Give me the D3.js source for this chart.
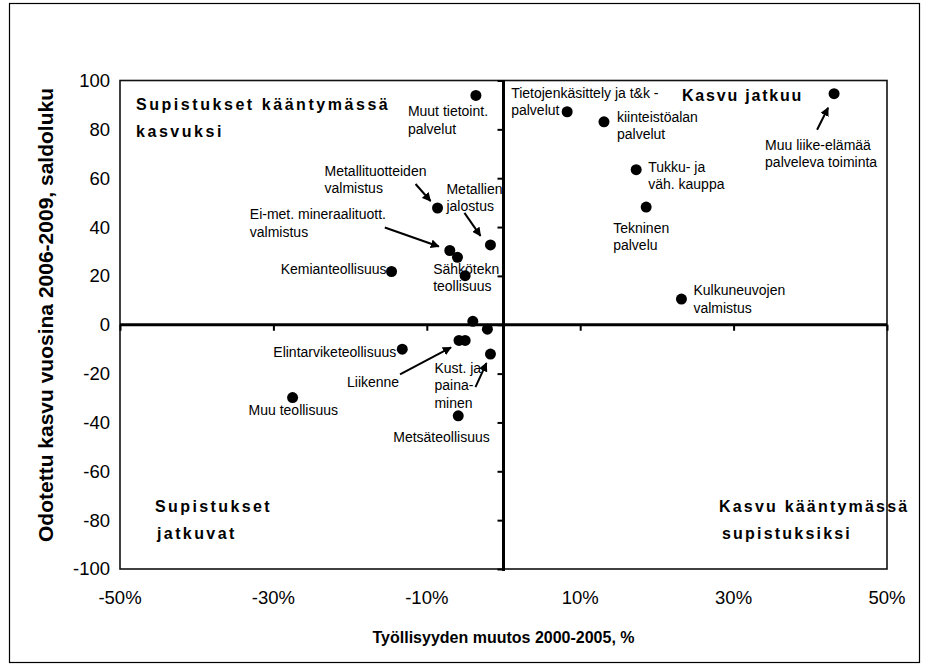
<!DOCTYPE html>
<html>
<head>
<meta charset="utf-8">
<script src="https://cdn.jsdelivr.net/npm/d3@7"></script>
<style>
  html, body { margin: 0; padding: 0; background: #fff; }
  svg { display: block; font-family: "Liberation Sans", Arial, sans-serif; }
</style>
</head>
<body>
<svg id="chart" width="928" height="670"></svg>
<script>
// ---------------- DATA ----------------
const sectors = [
  "Muu liike-elämää palveleva toiminta",
  "Tietojenkäsittely ja t&k -palvelut",
  "Kiinteistöalan palvelut",
  "Tukku- ja väh. kauppa",
  "Tekninen palvelu",
  "Kulkuneuvojen valmistus",
  "Muut tietoint. palvelut",
  "Metallituotteiden valmistus",
  "Metallien jalostus",
  "Ei-met. mineraalituott. valmistus",
  "(nimeämätön 1)",
  "Sähkötekn teollisuus",
  "Kemianteollisuus",
  "(nimeämätön 2)",
  "(nimeämätön 3)",
  "Liikenne",
  "(nimeämätön 4)",
  "Kust. ja painaminen",
  "Elintarviketeollisuus",
  "Muu teollisuus",
  "Metsäteollisuus"
];
// Työllisyyden muutos 2000-2005, %
const employmentChange = [43.1, 8.3, 13.1, 17.3, 18.6, 23.2, -3.6, -8.6, -1.7, -7.0, -6.0, -5.0, -14.6, -4.0, -2.1, -5.8, -5.0, -1.7, -13.2, -27.5, -5.9];
// Odotettu kasvu vuosina 2006-2009, saldoluku
const expectedGrowth = [94.6, 87.2, 83.1, 63.5, 48.2, 10.5, 93.9, 47.8, 32.7, 30.4, 27.6, 20.1, 21.8, 1.4, -1.8, -6.4, -6.4, -12.0, -10.0, -29.8, -37.3];

const xTickValues = [-50, -30, -10, 10, 30, 50];
const yTickValues = [-100, -80, -60, -40, -20, 0, 20, 40, 60, 80, 100];
const xTitle = "Työllisyyden muutos 2000-2005, %";
const yTitle = "Odotettu kasvu vuosina 2006-2009, saldoluku";

// ---------------- LAYOUT (labels / arrows relative to points, px) ----------------
const pointLabels = [
  { i: 0,  lines: ["Muu liike-elämää", "palveleva toiminta"], dx: -69, dy: 51, anchor: "start", arrow: [-17, 36, -6, 14] },
  { i: 1,  lines: ["Tietojenkäsittely ja t&k -", "palvelut"], dx: -56, dy: -19, anchor: "start" },
  { i: 2,  lines: ["kiinteistöalan", "palvelut"], dx: 13, dy: -5, anchor: "start" },
  { i: 3,  lines: ["Tukku- ja", "väh. kauppa"], dx: 12, dy: -3, anchor: "start" },
  { i: 4,  lines: ["Tekninen", "palvelu"], dx: -33, dy: 21, anchor: "start" },
  { i: 5,  lines: ["Kulkuneuvojen", "valmistus"], dx: 12, dy: -9, anchor: "start" },
  { i: 6,  lines: ["Muut tietoint.", "palvelut"], dx: -68, dy: 16, anchor: "start" },
  { i: 7,  lines: ["Metallituotteiden", "valmistus"], dx: -113, dy: -37, anchor: "start", arrow: [-22, -24, -7, -7] },
  { i: 8,  lines: ["Metallien", "jalostus"], dx: -44, dy: -56, anchor: "start", arrow: [-26, -32, -10, -9] },
  { i: 9,  lines: ["Ei-met. mineraalituott.", "valmistus"], dx: -200, dy: -36, anchor: "start", arrow: [-65, -23, -11, -4] },
  { i: 11, lines: ["Sähkötekn", "teollisuus"], dx: -32, dy: -7, anchor: "start" },
  { i: 12, lines: ["Kemianteollisuus"], dx: -5, dy: -2, anchor: "end" },
  { i: 15, lines: ["Liikenne"], dx: -112, dy: 42, anchor: "start", arrow: [-59, 34, -8, 7] },
  { i: 17, lines: ["Kust. ja", "paina-", "minen"], dx: -56, dy: 14, anchor: "start", arrow: [-15, 33, -4, 9] },
  { i: 18, lines: ["Elintarviketeollisuus"], dx: -6, dy: 3, anchor: "end" },
  { i: 19, lines: ["Muu teollisuus"], dx: -44, dy: 13, anchor: "start" },
  { i: 20, lines: ["Metsäteollisuus"], dx: -65, dy: 21, anchor: "start" }
];

const quadrantLabels = [
  { lines: ["Supistukset kääntymässä", "kasvuksi"], x: 136, y: 104, ls: 2.55 },
  { lines: ["Kasvu jatkuu"], x: 682, y: 95, ls: 1.8 },
  { lines: ["Supistukset", "jatkuvat"], x: 155, y: 506, x2: 157, ls: 2.4 },
  { lines: ["Kasvu kääntymässä", "supistuksiksi"], x: 719, y: 506, x2: 722, ls: 2.2 }
];

// ---------------- CHART ----------------
const svg = d3.select("#chart");
const plot = { left: 120, right: 887, top: 80.5, bottom: 569 };

const x = d3.scaleLinear().domain([-50, 50]).range([plot.left, plot.right]);
const y = d3.scaleLinear().domain([-100, 100]).range([plot.bottom, plot.top]);

// outer chart border
svg.append("rect")
  .attr("x", 9.5).attr("y", 3.5).attr("width", 910).attr("height", 659)
  .attr("fill", "#fff").attr("stroke", "#000").attr("stroke-width", 1.2);

// plot area border
svg.append("rect")
  .attr("x", plot.left).attr("y", plot.top)
  .attr("width", plot.right - plot.left).attr("height", plot.bottom - plot.top)
  .attr("fill", "none").attr("stroke", "#111").attr("stroke-width", 1.6);

// defs: arrowhead
svg.append("defs").append("marker")
  .attr("id", "arrow").attr("viewBox", "0 0 10 10")
  .attr("refX", 9).attr("refY", 5)
  .attr("markerWidth", 4.5).attr("markerHeight", 4.5)
  .attr("orient", "auto")
  .append("path").attr("d", "M0,0 L10,5 L0,10 z").attr("fill", "#000");

const pts = sectors.map((s, i) => ({ name: s, xv: employmentChange[i], yv: expectedGrowth[i] }));

// point labels
const labelG = svg.append("g").attr("font-size", 14).attr("fill", "#000");
pointLabels.forEach(l => {
  const p = pts[l.i];
  const px = x(p.xv), py = y(p.yv);
  const t = labelG.append("text")
    .attr("text-anchor", l.anchor)
    .attr("x", px + l.dx).attr("y", py + l.dy);
  l.lines.forEach((line, k) => {
    t.append("tspan")
      .attr("x", px + l.dx)
      .attr("y", py + l.dy + k * 17.5)
      .attr("dy", "0.35em")
      .text(line);
  });
  if (l.arrow) {
    svg.append("line")
      .attr("x1", px + l.arrow[0]).attr("y1", py + l.arrow[1])
      .attr("x2", px + l.arrow[2]).attr("y2", py + l.arrow[3])
      .attr("stroke", "#000").attr("stroke-width", 2)
      .attr("marker-end", "url(#arrow)");
  }
});

// zero axes (drawn over labels)
const xAxis = d3.axisBottom(x).tickValues(xTickValues).tickSize(6).tickFormat("");
const xAxisG = svg.append("g").attr("transform", `translate(0,${y(0)})`).call(xAxis);
xAxisG.select(".domain").attr("stroke", "#000").attr("stroke-width", 3).attr("d", `M${plot.left},0H${plot.right}`);
xAxisG.selectAll(".tick line").attr("stroke", "#000").attr("stroke-width", 2);

const yAxis = d3.axisLeft(y).tickValues(yTickValues).tickSize(6).tickFormat("");
const yAxisG = svg.append("g").attr("transform", `translate(${x(0)},0)`).call(yAxis);
yAxisG.select(".domain").attr("stroke", "#000").attr("stroke-width", 3).attr("d", `M0,${plot.top}V${plot.bottom + 2}`);
yAxisG.selectAll(".tick line").attr("stroke", "#000").attr("stroke-width", 2);

// tick labels (low position)
svg.append("g").selectAll("text").data(yTickValues).join("text")
  .attr("x", plot.left - 10).attr("y", d => y(d)).attr("dy", "0.35em")
  .attr("text-anchor", "end").attr("font-size", 18.5).text(d => d);

svg.append("g").selectAll("text").data(xTickValues).join("text")
  .attr("x", d => x(d)).attr("y", 598).attr("dy", "0.35em")
  .attr("text-anchor", "middle").attr("font-size", 18.5).text(d => d + "%");

// points
svg.append("g").selectAll("circle").data(pts).join("circle")
  .attr("cx", d => x(d.xv)).attr("cy", d => y(d.yv)).attr("r", 5.5).attr("fill", "#000");

// quadrant labels
quadrantLabels.forEach(q => {
  q.lines.forEach((line, k) => {
    svg.append("text")
      .attr("x", k === 0 ? q.x : (q.x2 || q.x))
      .attr("y", q.y + k * 27).attr("dy", "0.35em")
      .attr("font-size", 16).attr("font-weight", "bold")
      .attr("letter-spacing", q.ls)
      .text(line);
  });
});

// axis titles
svg.append("text")
  .attr("x", (plot.left + plot.right) / 2).attr("y", 637).attr("dy", "0.35em")
  .attr("text-anchor", "middle").attr("font-size", 16).attr("font-weight", "bold")
  .text(xTitle);

svg.append("text")
  .attr("transform", `translate(46,315) rotate(-90)`)
  .attr("dy", "0.35em")
  .attr("text-anchor", "middle").attr("font-size", 21).attr("font-weight", "bold")
  .text(yTitle);
</script>
</body>
</html>
